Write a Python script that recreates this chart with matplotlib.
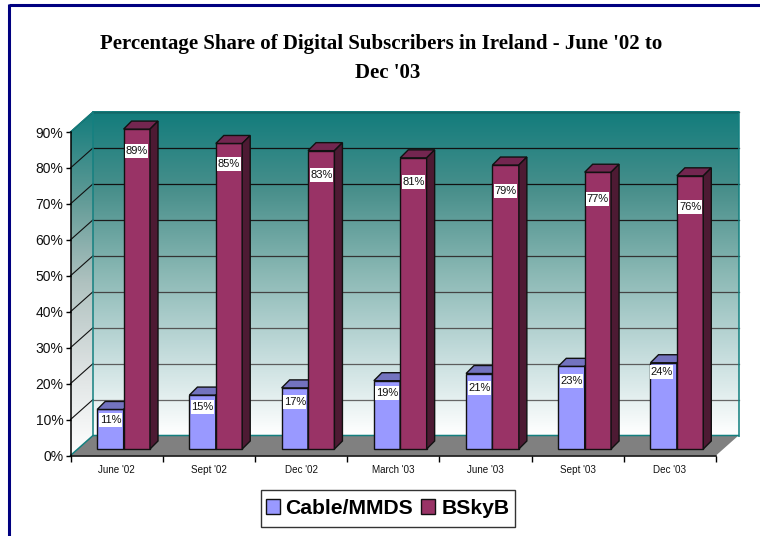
import matplotlib
matplotlib.use('Agg')
import matplotlib.pyplot as plt
import numpy as np
from matplotlib.colors import LinearSegmentedColormap
from matplotlib.lines import Line2D
from matplotlib.patches import Patch, Polygon, Rectangle
from matplotlib.path import Path

# values
months = ["June '02", "Sept '02", "Dec '02", "March '03", "June '03", "Sept '03", "Dec '03"]
cable = [11, 15, 17, 19, 21, 23, 24]
bskyb = [89, 85, 83, 81, 79, 77, 76]
ytick_vals = [0, 10, 20, 30, 40, 50, 60, 70, 80, 90]

W, H = 760, 536
fig = plt.figure(figsize=(W / 100, H / 100), dpi=100)
plt.rcParams['font.family'] = ['Liberation Sans', 'DejaVu Sans']

# axes covers the front plane of the 3D box
left, right, bot, top = 70.5, 716.0, 455.5, 132.0
ax = fig.add_axes([left / W, 1 - bot / H, (right - left) / W, (bot - top) / H])
ax.set_xlim(0, 7)
ax.set_ylim(0, 90)
px_x = (right - left) / 7
px_y = (bot - top) / 90

wall_dx = 22.5 / px_x
wall_dy = 20 / px_y
bar_w = 26.4 / px_x
off_x = 7 / px_x
off_y = 6.5 / px_y
dep_x = 8 / px_x
dep_y = 8 / px_y

wall_cmap = LinearSegmentedColormap.from_list('wall', ['#ffffff', '#c4dcdc', '#8ab8b4', '#4a908c', '#127c7c'])
side_cmap = LinearSegmentedColormap.from_list('side', ['#ffffff', '#dde2e2', '#b0c2c0', '#5f9a96', '#127c7c'])
grad = np.linspace(1, 0, 256).reshape(-1, 1)

# floor
ax.add_patch(Polygon([(0, 0), (7, 0), (7 + wall_dx, wall_dy), (wall_dx, wall_dy)],
                     fc='#808080', ec='none', clip_on=False, zorder=1))

# back wall
ax.imshow(grad, cmap=wall_cmap, aspect='auto', zorder=1, clip_on=False,
          extent=[wall_dx, 7 + wall_dx, wall_dy, 90 + wall_dy])

# side wall, gradient clipped to the slanted shape
side = Polygon([(0, 0), (wall_dx, wall_dy), (wall_dx, 90 + wall_dy), (0, 90)],
               fc='none', ec='none', transform=ax.transData)
ax.add_patch(side)
im = ax.imshow(grad, cmap=side_cmap, aspect='auto', zorder=1,
               extent=[0, wall_dx, 0, 90 + wall_dy])
im.set_clip_box(fig.bbox)
im.set_clip_path(side)
ax.set_xlim(0, 7)
ax.set_ylim(0, 90)

# gridlines on both walls, the back ones fade to grey further down
back_grey = ['#666666', '#5c5c5c', '#555555', '#444444', '#333333', '#1c1c1c', '#111111', '#111111', '#111111']
for v, c in zip(ytick_vals[1:], back_grey):
    ax.plot([0, wall_dx], [v, v + wall_dy], color='#111111', lw=0.8, clip_on=False, zorder=2)
    ax.plot([wall_dx, 7 + wall_dx], [v + wall_dy, v + wall_dy], color=c, lw=0.9, clip_on=False, zorder=2)

# teal wall outline
teal = '#148080'
ax.plot([0, wall_dx, wall_dx], [90, 90 + wall_dy, wall_dy], color=teal, lw=1.1, clip_on=False, zorder=2)
ax.plot([wall_dx, 7 + wall_dx, 7 + wall_dx], [90 + wall_dy, 90 + wall_dy, wall_dy], color=teal, lw=1.4,
        alpha=0.8, clip_on=False, zorder=2)
ax.plot([0, wall_dx, 7 + wall_dx], [0, wall_dy, wall_dy], color=teal, lw=1.1, clip_on=False, zorder=2)


def label_box(x0, y0, w, h, mutation_size):
    # white box hugging the text sideways but taller than it, as in the original
    x0 -= 0.5
    x1 = x0 + w + 1
    y0 -= 2
    y1 = y0 + h + 4
    return Path([(x0, y0), (x1, y0), (x1, y1), (x0, y1), (x0, y0)], closed=True)


def bar3d(x0, val, front, topc, sidec, z):
    y0 = off_y
    y1 = off_y + val
    x1 = x0 + bar_w
    ax.bar(x0, val, width=bar_w, bottom=y0, align='edge', color=front, edgecolor='#111111', lw=1.0,
           zorder=z, clip_on=False)
    ax.add_patch(Polygon([(x0, y1), (x1, y1), (x1 + dep_x, y1 + dep_y), (x0 + dep_x, y1 + dep_y)],
                         fc=topc, ec='#111111', lw=1.0, clip_on=False, zorder=z))
    ax.add_patch(Polygon([(x1, y0), (x1 + dep_x, y0 + dep_y), (x1 + dep_x, y1 + dep_y), (x1, y1)],
                         fc=sidec, ec='#111111', lw=1.0, clip_on=False, zorder=z))


drop_cable = [11, 12, 14, 12, 14, 15, 9]
drop_bskyb = [22, 21, 24, 24, 26, 27, 31]
nudge_cable = [0, 0, 0, 0, 0, 0, -2]
for i in range(len(months)):
    xc = i + 0.5 + off_x
    bar3d(xc - bar_w, cable[i], '#9999ff', '#7373bf', '#4d4d80', 3 + i * 2)
    bar3d(xc, bskyb[i], '#993366', '#732650', '#4d1a33', 4 + i * 2)
    ax.annotate('%d%%' % cable[i], (xc - bar_w / 2, cable[i] + off_y), xytext=(nudge_cable[i], -drop_cable[i]),
                textcoords='offset pixels', ha='center', va='center', fontsize=8, color='#111111', zorder=30,
                annotation_clip=False, bbox=dict(fc='white', ec='none', boxstyle=label_box))
    ax.annotate('%d%%' % bskyb[i], (xc + bar_w / 2, bskyb[i] + off_y), xytext=(0, -drop_bskyb[i]),
                textcoords='offset pixels', ha='center', va='center', fontsize=8, color='#111111', zorder=30,
                annotation_clip=False, bbox=dict(fc='white', ec='none', boxstyle=label_box))

# axes
for s in ('top', 'right'):
    ax.spines[s].set_visible(False)
for s in ('left', 'bottom'):
    ax.spines[s].set_linewidth(1.1)
    ax.spines[s].set_zorder(20)
ax.set_yticks(ytick_vals)
ax.set_yticklabels(['%d%%' % v for v in ytick_vals], fontsize=10, color='#111111')
ax.tick_params(axis='y', length=3.5, width=1, pad=1.5)
ax.set_xticks(range(8))
ax.set_xticklabels([])
ax.set_xticks(np.arange(7) + 0.5, minor=True)
ax.set_xticklabels(months, minor=True, fontsize=7.1, color='#111111')
ax.tick_params(axis='x', which='major', length=4, width=1)
ax.tick_params(axis='x', which='minor', length=0, pad=6.5)

fig.text(381.5 / W, 1 - 44.5 / H, "Percentage Share of Digital Subscribers in Ireland - June '02 to",
         family='Liberation Serif', weight='bold', fontsize=15, ha='center', va='center')
fig.text(388 / W, 1 - 73.5 / H, "Dec '03", family='Liberation Serif', weight='bold', fontsize=15,
         ha='center', va='center')

# legend box drawn separately, its padding differs sideways and up/down
fig.add_artist(Rectangle((260.5 / W, 1 - 527 / H), 254 / W, 37 / H, transform=fig.transFigure,
                         fc='white', ec='#333333', lw=1))
handles = [Patch(fc='#9999ff', ec='#111111', lw=1), Patch(fc='#993366', ec='#111111', lw=1)]
fig.legend(handles, ['Cable/MMDS', 'BSkyB'], ncol=2, loc='center', bbox_to_anchor=(387.5 / W, 1 - 508.5 / H),
           frameon=False, prop=dict(weight='bold', size=15.2), handlelength=0.66, handleheight=0.66,
           handletextpad=0.28, columnspacing=0.38, borderpad=0, borderaxespad=0)

# navy frame, top and left only reach the picture edge
navy = '#000080'
fig.add_artist(Line2D([8.5 / W, 1], [1 - 5 / H, 1 - 5 / H], color=navy, lw=2.2, solid_capstyle='butt'))
fig.add_artist(Line2D([8.5 / W, 8.5 / W], [1 - 4 / H, 0], color=navy, lw=2.2, solid_capstyle='butt'))

fig.savefig('out.png', dpi=100)
